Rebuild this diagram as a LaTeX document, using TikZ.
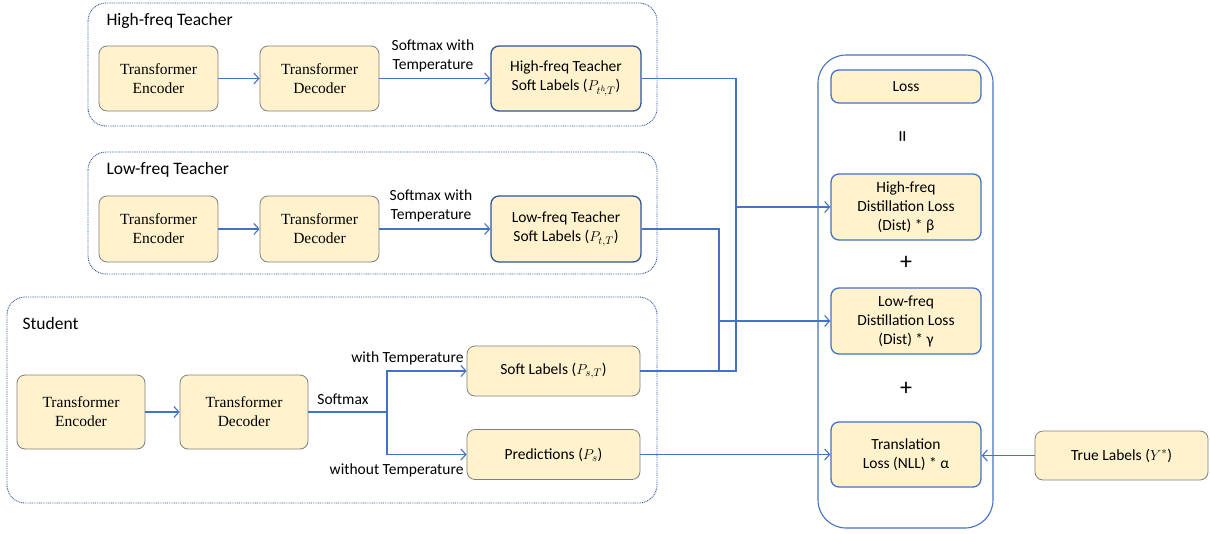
\documentclass[tikz,border=0pt]{standalone}
\usepackage{fontspec}
\setmainfont{Carlito}
\newfontfamily\timesfam{Liberation Serif}
\usetikzlibrary{arrows.meta}
\definecolor{boxfill}{HTML}{FFF2CC}
\definecolor{boxgray}{HTML}{7F7F7F}
\definecolor{darkblue}{HTML}{2F5597}
\definecolor{lineblue}{HTML}{4472C4}
\newcommand{\tfs}[2]{{\timesfam\fontsize{15.5}{19}\selectfont #1}\\{\timesfam\fontsize{15.5}{19}\selectfont #2}}
\begin{document}
\begin{tikzpicture}[x=1pt,y=-1pt,
  every node/.style={font=\fontsize{15.5}{19}\selectfont},
  box/.style={draw=boxgray,fill=boxfill,rounded corners=8pt,line width=0.8pt,align=center,inner sep=0pt},
  bluebox/.style={box,draw=darkblue,line width=1.3pt},
  rbox/.style={box,draw=lineblue,line width=1.3pt},
  grp/.style={draw=darkblue,line width=0.9pt,dash pattern=on 0.9pt off 0.9pt,rounded corners=18pt},
  conn/.style={draw=lineblue,line width=1.1pt},
  arr/.style={conn,-{Straight Barb[length=5pt,width=11pt]}},
  grplabel/.style={anchor=west,font=\fontsize{17.5}{20}\selectfont},
  sym/.style={font=\fontsize{24}{24}\selectfont}]
\useasboundingbox (0,0) rectangle (1210,533);

% group frames
\draw[grp] (88,3) rectangle (657,126);
\draw[grp] (88,152) rectangle (657,274);
\draw[grp] (7,297) rectangle (657,503);
\draw[draw=lineblue,line width=1.1pt,rounded corners=28pt] (818,55) rectangle (993,528);

\node[grplabel] (lh) at (103,21) {High-freq Teacher};
\node[grplabel] (ll) at (103,170) {Low-freq Teacher};
\node[grplabel] (ls) at (19,323) {Student};

% high-freq teacher
\node[box,minimum width=119pt,minimum height=65pt] (hEnc) at (158.5,78.5) {\tfs{Transformer}{Encoder}};
\node[box,minimum width=119pt,minimum height=65pt] (hDec) at (319.5,78.5) {\tfs{Transformer}{Decoder}};
\node[bluebox,minimum width=150pt,minimum height=65pt] (hSoft) at (566,78.5) {High-freq Teacher\\Soft Labels ($P_{t^h\!,T}$)};
\draw[arr] (hEnc) -- (hDec);
\draw[arr] (hDec) -- (hSoft);
\node[align=center] (hsm) at (433,56) {Softmax with\\Temperature};

% low-freq teacher
\node[box,minimum width=119pt,minimum height=66pt] (lEnc) at (158.5,229) {\tfs{Transformer}{Encoder}};
\node[box,minimum width=119pt,minimum height=66pt] (lDec) at (319.5,229) {\tfs{Transformer}{Decoder}};
\node[bluebox,minimum width=150pt,minimum height=66pt] (lSoft) at (566,229) {Low-freq Teacher\\Soft Labels ($P_{t,T}$)};
\draw[arr] (lEnc) -- (lDec);
\draw[arr] (lDec) -- (lSoft);
\node[align=center] (lsm) at (431,206) {Softmax with\\Temperature};

% student
\node[box,minimum width=128pt,minimum height=74pt] (sEnc) at (81,412) {\tfs{Transformer}{Encoder}};
\node[box,minimum width=128pt,minimum height=74pt] (sDec) at (244,412) {\tfs{Transformer}{Decoder}};
\node[box,minimum width=173pt,minimum height=50pt] (sSoft) at (553.5,371) {Soft Labels ($P_{s,T}$)};
\node[box,minimum width=173pt,minimum height=50pt] (sPred) at (553.5,454.5) {Predictions ($P_s$)};
\coordinate (br) at (387,412);
\draw[arr] (sEnc) -- (sDec);
\draw[conn] (sDec.east) -- (br);
\draw[arr] (br) |- (sSoft.west);
\draw[arr] (br) |- (sPred.west);
\node (smx) at (343,399) {Softmax};
\node[anchor=east] (wt) at (467,358) {with Temperature};
\node[anchor=east] (wot) at (467,470) {without Temperature};

% loss panel
\node[rbox,minimum width=150pt,minimum height=33pt] (loss) at (906,86.5) {Loss};
\node[sym,rotate=90] (eq) at (905,137) {=};
\node[rbox,minimum width=150pt,minimum height=66pt] (hfD) at (906,207) {High-freq\\Distillation Loss\\(Dist) * β};
\node[sym] (p1) at (906,263) {+};
\node[rbox,minimum width=150pt,minimum height=66pt] (lfD) at (906,321) {Low-freq\\Distillation Loss\\(Dist) * γ};
\node[sym] (p2) at (906,389) {+};
\node[rbox,minimum width=150pt,minimum height=65pt] (trans) at (906,454.5) {Translation\\Loss (NLL) * α};
\node[box,minimum width=173pt,minimum height=49pt] (true) at (1121.5,455.5) {True Labels ($Y^{*}$)};

% connectors to loss
\coordinate (jh) at (736,207);
\coordinate (jl) at (719,321);
\draw[conn] (hSoft.east) -| (jh);
\draw[conn] (sSoft.east) -| (jh);
\draw[arr] (jh) -- (hfD.west);
\draw[conn] (lSoft.east) -| (jl);
\draw[conn] (sSoft.east) -| (jl);
\draw[arr] (jl) -- (lfD.west);
\draw[arr] (sPred.east) -- (sPred.east -| trans.west);
\draw[arr] (true.west) -- (true.west -| trans.east);
\end{tikzpicture}
\end{document}
